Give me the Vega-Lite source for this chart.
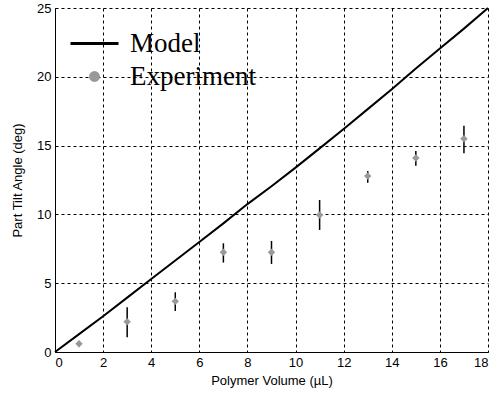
{
  "$schema": "https://vega.github.io/schema/vega-lite/v6.json",
  "width": 433,
  "height": 344,
  "padding": {"left": 11, "top": 2, "right": 8, "bottom": 5},
  "background": "white",
  "config": {
    "view": {"stroke": null},
    "axis": {
      "labelFont": "Liberation Sans",
      "titleFont": "Liberation Sans",
      "labelFontSize": 13,
      "titleFontSize": 13,
      "titleFontWeight": "normal",
      "labelColor": "black",
      "titleColor": "black",
      "domainColor": "black",
      "gridColor": "black",
      "gridDash": [3, 3],
      "gridOpacity": 1,
      "gridWidth": 1,
      "ticks": false,
      "labelPadding": 4
    }
  },
  "datasets": {
    "model": [
      {"volume": 0, "angle": 0, "series": "Model"},
      {"volume": 1, "angle": 1.3, "series": "Model"},
      {"volume": 2, "angle": 2.6, "series": "Model"},
      {"volume": 3, "angle": 3.95, "series": "Model"},
      {"volume": 4, "angle": 5.3, "series": "Model"},
      {"volume": 5, "angle": 6.65, "series": "Model"},
      {"volume": 6, "angle": 8.0, "series": "Model"},
      {"volume": 7, "angle": 9.35, "series": "Model"},
      {"volume": 8, "angle": 10.75, "series": "Model"},
      {"volume": 9, "angle": 12.05, "series": "Model"},
      {"volume": 10, "angle": 13.4, "series": "Model"},
      {"volume": 11, "angle": 14.8, "series": "Model"},
      {"volume": 12, "angle": 16.2, "series": "Model"},
      {"volume": 13, "angle": 17.65, "series": "Model"},
      {"volume": 14, "angle": 19.1, "series": "Model"},
      {"volume": 15, "angle": 20.6, "series": "Model"},
      {"volume": 16, "angle": 22.05, "series": "Model"},
      {"volume": 17, "angle": 23.5, "series": "Model"},
      {"volume": 18, "angle": 25.0, "series": "Model"}
    ],
    "experiment": [
      {"volume": 1, "angle": 0.6, "lo": 0.4, "hi": 0.8, "series": "Experiment"},
      {"volume": 3, "angle": 2.2, "lo": 1.07, "hi": 3.25, "series": "Experiment"},
      {"volume": 5, "angle": 3.68, "lo": 2.98, "hi": 4.34, "series": "Experiment"},
      {"volume": 7, "angle": 7.25, "lo": 6.5, "hi": 7.9, "series": "Experiment"},
      {"volume": 9, "angle": 7.25, "lo": 6.4, "hi": 8.07, "series": "Experiment"},
      {"volume": 11, "angle": 9.96, "lo": 8.87, "hi": 11.05, "series": "Experiment"},
      {"volume": 13, "angle": 12.79, "lo": 12.3, "hi": 13.15, "series": "Experiment"},
      {"volume": 15, "angle": 14.1, "lo": 13.54, "hi": 14.6, "series": "Experiment"},
      {"volume": 17, "angle": 15.5, "lo": 14.44, "hi": 16.45, "series": "Experiment"}
    ]
  },
  "layer": [
    {
      "data": {"name": "model"},
      "mark": {"type": "line", "strokeWidth": 2},
      "encoding": {
        "x": {
          "field": "volume", "type": "quantitative",
          "scale": {"domain": [0, 18], "nice": false},
          "axis": {"values": [0, 2, 4, 6, 8, 10, 12, 14, 16, 18], "title": "Polymer Volume (\u00b5L)", "titlePadding": 5}
        },
        "y": {
          "field": "angle", "type": "quantitative",
          "scale": {"domain": [0, 25], "nice": false},
          "axis": {"values": [0, 5, 10, 15, 20, 25], "title": "Part Tilt Angle (deg)", "titlePadding": 12}
        },
        "color": {
          "field": "series", "type": "nominal",
          "scale": {"domain": ["Model", "Experiment"], "range": ["black", "#999999"]},
          "legend": {
            "title": null,
            "orient": "none",
            "legendX": 26,
            "legendY": 22,
            "labelFont": "Liberation Serif",
            "labelFontSize": 27,
            "labelColor": "black",
            "labelLimit": 300,
            "labelOffset": 22,
            "rowPadding": 5,
            "symbolSize": 2304,
            "encode": {
              "symbols": {
                "update": {
                  "shape": {"signal": "datum.value === 'Model' ? 'stroke' : 'circle'"},
                  "size": {"signal": "datum.value === 'Model' ? 2304 : 120"},
                  "stroke": {"signal": "datum.value === 'Model' ? 'black' : '#999999'"},
                  "fill": {"signal": "datum.value === 'Model' ? 'transparent' : '#999999'"},
                  "strokeWidth": {"signal": "datum.value === 'Model' ? 3 : 0"},
                  "opacity": {"value": 1}
                }
              }
            }
          }
        }
      }
    },
    {
      "data": {"name": "experiment"},
      "mark": {"type": "rule", "color": "black", "strokeWidth": 1.5},
      "encoding": {
        "x": {"field": "volume", "type": "quantitative"},
        "y": {"field": "lo", "type": "quantitative"},
        "y2": {"field": "hi"}
      }
    },
    {
      "data": {"name": "experiment"},
      "mark": {"type": "point", "filled": true, "size": 55, "opacity": 1, "shape": "diamond"},
      "encoding": {
        "x": {"field": "volume", "type": "quantitative"},
        "y": {"field": "angle", "type": "quantitative"},
        "color": {"field": "series", "type": "nominal"}
      }
    }
  ]
}
